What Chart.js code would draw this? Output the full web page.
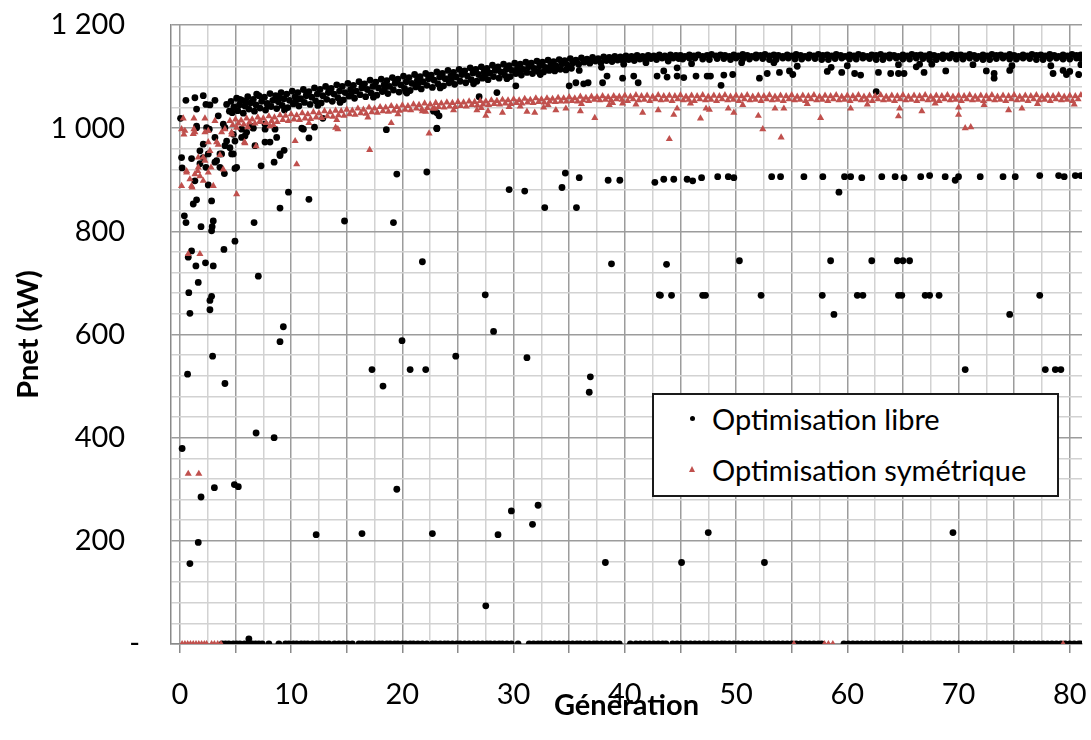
<!DOCTYPE html>
<html>
<head>
<meta charset="utf-8">
<script src="https://cdn.jsdelivr.net/npm/chart.js@4.4.1/dist/chart.umd.min.js"></script>
<style>
html,body{margin:0;padding:0;background:#fff;}
#wrap{position:relative;width:1091px;height:740px;}
#legend{position:absolute;left:652px;top:393px;width:403px;height:100px;border:2px solid #1a1a1a;background:#fff;font-family:Lato,sans-serif;font-size:29px;color:#000;}
.row{position:absolute;left:0;height:40px;line-height:40px;white-space:nowrap;}
.row .t{position:absolute;left:58px;top:0;}
.dot{position:absolute;left:36px;width:5px;height:5px;border-radius:50%;background:#000;}
.tri{position:absolute;left:35px;width:0;height:0;border-left:3.5px solid transparent;border-right:3.5px solid transparent;border-bottom:6px solid #C0504D;}
</style>
</head>
<body>
<div id="wrap">
<canvas id="c" width="1091" height="740"></canvas>
<div id="legend">
  <div class="row" style="top:4px;"><span class="dot" style="top:17px;"></span><span class="t">Optimisation libre</span></div>
  <div class="row" style="top:55px;"><span class="tri" style="top:16px;"></span><span class="t">Optimisation symétrique</span></div>
</div>
</div>
<script>
// ---------- DATA ----------
const seriesNames = ['Optimisation libre', 'Optimisation symétrique'];
const xTickLabels = ['0','10','20','30','40','50','60','70','80'];
const yTickLabels = ['-','200','400','600','800','1 000','1 200'];

// Optimisation libre : main band (x, Pnet)
const libreBand = [
[4.6,1052],[5.1,1058],[5.6,1054],[6.1,1061],[6.6,1056],[7.1,1063],[7.6,1060],[8.1,1067],[8.6,1063],[9.1,1069],[9.6,1066],[10.1,1072],[10.6,1069],[11.1,1075],[11.6,1071],[12.1,1078],[12.6,1075],[13.1,1081],[13.6,1077],[14.1,1084],[14.6,1081],[15.1,1087],[15.6,1083],[16.1,1090],[16.6,1086],[17.1,1093],[17.6,1089],[18.1,1095],[18.6,1092],[19.1,1098],[19.6,1095],[20.1,1101],[20.6,1098],[21.1,1104],[21.6,1100],[22.1,1106],[22.6,1103],[23.1,1109],[23.6,1106],[24.1,1112],[24.6,1108],[25.1,1114],[25.6,1111],[26.1,1117],[26.6,1114],[27.1,1119],[27.6,1116],[28.1,1122],[28.6,1119],[29.1,1124],[29.6,1121],[30.1,1126],[30.6,1124],[31.1,1128],[31.6,1126],[32.1,1130],[32.6,1128],[33.1,1132],[33.6,1129],[34.1,1133],[34.6,1131],[35.1,1135],[35.6,1132],[36.1,1136],[36.6,1134],[37.1,1137],[37.6,1135],[38.1,1138],[38.6,1137],[39.1,1139],[39.6,1138],[40.1,1140],[40.6,1139],[41.1,1141],[41.6,1139],[42.1,1141],[42.6,1140],[43.1,1142],[43.6,1140],[44.1,1142],[44.6,1141],
[4.85,1041],[5.35,1045],[5.85,1043],[6.35,1049],[6.85,1045],[7.35,1052],[7.85,1048],[8.35,1054],[8.85,1051],[9.35,1057],[9.85,1054],[10.35,1061],[10.85,1057],[11.35,1063],[11.85,1060],[12.35,1066],[12.85,1063],[13.35,1069],[13.85,1066],[14.35,1072],[14.85,1069],[15.35,1075],[15.85,1072],[16.35,1078],[16.85,1075],[17.35,1081],[17.85,1078],[18.35,1084],[18.85,1081],[19.35,1087],[19.85,1084],[20.35,1090],[20.85,1087],[21.35,1093],[21.85,1090],[22.35,1096],[22.85,1093],[23.35,1099],[23.85,1096],[24.35,1101],[24.85,1099],[25.35,1104],[25.85,1101],[26.35,1107],[26.85,1104],[27.35,1109],[27.85,1107],[28.35,1112],[28.85,1109],[29.35,1114],[29.85,1112],[30.35,1117],[30.85,1114],[31.35,1119],[31.85,1116],[32.35,1121],[32.85,1118],[33.35,1123],[33.85,1120],[34.35,1125],[34.85,1122],[35.35,1127],[35.85,1124],[36.35,1128],[36.85,1126],[37.35,1130],[37.85,1127],[38.35,1131],[38.85,1129],[39.35,1132],[39.85,1130],[40.35,1133],[40.85,1131],[41.35,1134],[41.85,1132],[42.35,1135],[42.85,1133],[43.35,1136],[43.85,1134],[44.35,1136],[44.85,1135],
[4.7,1030],[5.2,1034],[5.7,1029],[6.2,1037],[6.7,1033],[7.2,1039],[7.7,1035],[8.2,1042],[8.7,1038],[9.2,1044],[9.7,1040],[10.2,1047],[10.7,1043],[11.2,1050],[11.7,1046],[12.2,1053],[12.7,1049],[13.2,1056],[13.7,1052],[14.2,1059],[14.7,1055],[15.2,1062],[15.7,1058],[16.2,1065],[16.7,1061],[17.2,1068],[17.7,1064],[18.2,1071],[18.7,1067],[19.2,1074],[19.7,1070],[20.2,1077],[20.7,1073],[21.2,1080],[21.7,1076],[22.2,1083],[22.7,1079],[23.2,1086],[23.7,1082],[24.2,1088],[24.7,1085],[25.2,1091],[25.7,1088],[26.2,1094],[26.7,1091],[27.2,1097],[27.7,1094],[28.2,1100],[28.7,1097],[29.2,1103],[29.7,1100],[30.2,1106],[30.7,1103],[31.2,1108],[31.7,1106],[32.2,1110],[32.7,1109],[33.2,1112],[33.7,1111],[34.2,1114],[34.7,1113],[35.2,1116],
[5.9,1051],[6.9,1066],[7.9,1043],[8.9,1060],[9.4,1035],[10.4,1052],[11.4,1068],[12.4,1044],[13.4,1074],[14.4,1050],[15.4,1066],[16.4,1085],[17.4,1060],[18.4,1076],[19.4,1092],[20.4,1068],[21.4,1086],[22.4,1101],[23.4,1078],[24.4,1094],[25.4,1109],[26.4,1086],[27.4,1102],[28.4,1116],[29.4,1096],[30.4,1110],[31.4,1122],[32.4,1104],[33.4,1117],[34.4,1128],[35.9,1112],[36.9,1131],[37.9,1118],[38.9,1133],[39.9,1124],[40.9,1136],[41.9,1127],[42.9,1138],[43.9,1130]
];
const libreTail = [
[45.0,1141],[45.4,1139],[45.8,1142],[46.2,1140],[46.6,1142],[47.0,1139],[47.4,1141],[47.8,1143],[48.2,1140],[48.6,1142],[49.0,1141],[49.4,1139],[49.8,1142],[50.2,1140],[50.6,1143],[51.0,1141],[51.4,1139],[51.8,1142],[52.2,1141],[52.6,1143],[53.0,1140],[53.4,1142],[53.8,1141],[54.2,1139],[54.6,1142],[55.0,1140],[55.4,1143],[55.8,1141],[56.2,1139],[56.6,1142],[57.0,1140],[57.4,1143],[57.8,1141],[58.2,1142],[58.6,1140],[59.0,1143],[59.4,1141],[59.8,1139],[60.2,1142],[60.6,1140],[61.0,1143],[61.4,1141],[61.8,1139],[62.2,1142],[62.6,1141],[63.0,1143],[63.4,1140],[63.8,1142],[64.2,1141],[64.6,1139],[65.0,1142],[65.4,1140],[65.8,1143],[66.2,1141],[66.6,1142],[67.0,1140],[67.4,1143],[67.8,1141],[68.2,1139],[68.6,1142],[69.0,1140],[69.4,1143],[69.8,1141],[70.2,1142],[70.6,1140],[71.0,1143],[71.4,1141],[71.8,1139],[72.2,1142],[72.6,1140],[73.0,1143],[73.4,1141],[73.8,1142],[74.2,1140],[74.6,1143],[75.0,1141],[75.4,1139],[75.8,1142],[76.2,1140],[76.6,1143],[77.0,1141],[77.4,1142],[77.8,1140],[78.2,1143],[78.6,1141],[79.0,1139],[79.4,1142],[79.8,1140],[80.2,1143],[80.6,1141],[81.0,1142],
[45.2,1134],[45.8,1136],[46.3,1136],[47.0,1134],[47.6,1133],[48.3,1135],[48.9,1135],[49.5,1133],[50.0,1136],[50.6,1134],[51.2,1134],[51.8,1136],[52.4,1135],[53.0,1133],[53.6,1133],[54.2,1136],[54.7,1136],[55.3,1134],[55.9,1134],[56.5,1136],[57.1,1135],[57.7,1133],[58.3,1133],[58.9,1135],[59.5,1136],[60.2,1134],[60.8,1134],[61.4,1136],[62.0,1135],[62.6,1133],[63.2,1133],[63.8,1136],[64.4,1136],[65.0,1134],[65.6,1134],[66.2,1136],[66.8,1135],[67.4,1133],[68.0,1133],[68.6,1135],[69.2,1136],[69.8,1134],[70.4,1134],[71.0,1136],[71.6,1135],[72.2,1133],[72.8,1133],[73.4,1135],[74.0,1136],[74.6,1134],[75.2,1134],[75.8,1136],[76.4,1135],[77.0,1133],[77.6,1133],[78.2,1135],[78.8,1136],[79.4,1134],[80.0,1134],[80.6,1136],[81.0,1135]
];
const libreOutliers = [
[0.15,943],[0.2,923],[1.05,941],[0.4,830],[0.55,817],[1.9,809],[2.85,801],[3.0,820],[2.9,809],[1.2,853],[1.5,861],[2.85,859],[2.55,890],[4.95,922],[4.0,912],[6.67,817],[7.3,927],[8.47,934],[9.0,845],[9.76,876],[11.6,862],[11.6,981],[9.0,947],[9.37,957],[10.96,1000],[12.1,1002],[14.8,820],[18.56,997],[19.5,911],[19.2,817],[4.95,781],[3.96,765],[1.05,762],[0.75,750],[1.44,733],[2.3,739],[3.0,733],[1.65,701],[0.8,681],[2.85,674],[2.7,666],[2.7,648],[0.9,641],[7.05,713],[9.3,615],[9.0,586],[19.97,588],[2.94,558],[0.69,523],[4.05,505],[17.27,532],[18.26,500],
[6.85,409],[8.47,400],[0.2,379],[3.1,303],[1.9,285],[4.9,309],[5.25,305],[19.5,300],[12.25,212],[16.37,214],[1.65,197],[0.9,156],[6.2,10],
[22.2,915],[29.6,881],[31,878],[32.8,846],[34.35,885],[34.65,913],[35.9,904],[35.65,846],[38.5,899],[39.55,899],[42.7,895],[21.8,741],[38.8,737],[27.45,677],[43.1,677],[28.2,606],[24.8,558],[31.2,555],[20.7,532],[22.1,532],[36.9,518],[36.8,488],[22.7,214],[28.6,212],[29.8,258],[31.7,232],[32.2,269],[38.25,158],[27.5,74],
[43.5,901],[44.4,901],[45.6,901],[46.1,898],[46.9,904],[48.35,906],[49.3,906],[49.8,904],[53.2,906],[54,906],[56.1,906],[57.8,906],[59.75,906],[60.3,906],[61.3,904],[63.1,906],[64.3,906],[65.1,904],[66.6,906],[67.4,908],[68.8,906],[69.7,899],[70,906],[71.95,906],[74,906],[75.1,906],[77.3,908],[79,908],[79.5,906],[80.5,908],[81,908],[59.25,876],
[43.75,736],[50.3,743],[58.5,743],[62.2,743],[64.5,743],[65,743],[65.6,743],
[43.2,676],[44.2,676],[47.0,676],[47.25,676],[52.25,676],[57.75,676],[60.9,676],[61.4,676],[64.6,676],[64.9,676],[67.0,676],[67.4,676],[68.25,676],[77.3,676],
[58.8,639],[74.6,639],[70.6,532],[77.8,532],[78.7,532],[79.2,532],
[45.1,158],[47.5,216],[52.55,158],[69.5,216],
[0.54,1054],[1.35,1059],[2.1,1063],[2.34,1046],[2.7,1045],[3.15,1054],[1.5,1037],[0.06,1019],[3.45,1024],[4.2,1046],[4.45,1033],[5.4,1056],[1.5,1001],[2.64,998],[1.8,956],[2.1,943],[2.34,924],[3.15,934],[3.6,950],[4.05,966],[4.5,962],[4.8,950],[4.95,975],[5.1,924],[6.0,992],[5.55,982],[9.0,950],[11.1,998],[12.85,1019],[23.1,1030],[23.1,1000],[6.55,1001],[7.66,998],[8.7,982],[8.1,973],
[1.8,931],[2.55,950],[3.3,937],[3.6,924],[3.75,950],[4.2,975],[4.65,950],[4.8,988],[3.15,982],[2.1,969],[4.05,1001],[5.55,998],[5.85,985],[6.45,1004],[7.65,973],[6.75,966],[1.35,898],[1.5,1004],[2.4,1001],[3.9,1008],[6.6,1000],[7.65,1008],[8.55,998],
[20.3,1071],[22.8,1033],[23.3,1024],[23.1,999],[26.9,1061],[28.5,1069],[30.2,1082],[35,1082],[35.6,1088],[36.3,1086],[36.7,1088],[38,1088],[38.4,1101],[39.8,1097],[40.8,1101],[41.2,1088],[42.9,1101],[43.5,1111],[43.8,1099],[44.7,1117],[44.7,1101],[45.3,1098],[46.4,1101],[47.4,1101],[47.7,1101],[48.65,1083],[48.9,1103],[49.7,1104],[52.1,1097],[52.8,1106],[53.4,1127],[53.9,1108],[54.8,1111],[55.1,1104],[46,1125],[50.5,1127],[55.5,1120],
[58.2,1110],[58.55,1118],[59.5,1108],[60,1121],[60.66,1106],[61.2,1103],[62.8,1108],[63.9,1106],[64.6,1106],[64.6,1123],[65.1,1106],[66.2,1119],[66.5,1124],[66.9,1108],[67.6,1124],[68.85,1111],[71.3,1123],[72.5,1111],[73.2,1106],[73.2,1097],[74.6,1112],[74.8,1121],[78.3,1121],[78.5,1106],[79.4,1112],[79.7,1104],[80,1110],[80.8,1104],[81,1123],[62.6,1071]
];
const libreZeroX = [3.8,4.1,4.4,4.8,5.1,5.4,5.8,6.1,6.5,6.8,7.1,7.4,8.0,8.9,9.5,9.8,10.2,10.5,10.9,11.2,11.5,11.9,12.3,12.6,13.0,13.4,13.9,14.3,14.7,15.1,15.5,16.1,16.4,16.8,17.1,17.5,17.9,18.2,18.6,18.9,19.3,19.6,20.0,20.3,20.7,21.0,21.4,21.8,22.2,22.7,23.0,23.4,23.8,24.1,24.5,24.9,25.2,25.6,26.0,26.4,26.8,27.2,27.6,27.9,28.3,28.7,29.0,29.4,29.8,30.4,31.4,31.8,32.2,32.5,32.9,33.3,33.7,34.1,34.5,34.9,35.3,35.7,36.0,36.4,36.8,37.2,37.5,37.9,38.3,38.7,39.1,39.5,40.5,41.0,41.4,41.8,42.2,42.6,43.0,43.4,43.7,44.3,44.7,45.1,45.5,45.9,46.3,46.7,47.1,47.5,47.9,48.3,48.7,49.0,49.4,49.8,50.2,50.6,51.0,51.4,51.8,52.2,52.6,53.0,53.4,53.8,54.2,54.6,55.0,55.4,55.8,56.2,56.6,57.0,57.4,57.7,59.7,60.1,60.5,60.9,61.3,61.7,62.1,62.5,62.9,63.3,63.7,64.1,64.5,64.9,65.3,65.7,66.1,66.5,66.9,67.3,67.7,68.1,68.4,68.8,69.2,69.6,70.0,70.4,70.8,71.2,71.6,72.0,72.4,72.8,73.2,73.6,74.0,74.4,74.8,75.2,75.6,76.0,76.4,76.8,77.2,77.6,78.0,78.4,78.8,79.2,79.6,80.0,80.4,80.8,81.0];

// Optimisation symétrique
const symBand = [
[4.5,1014],[5,1017],[5.5,1015],[6,1019],[6.5,1017],[7,1021],[7.5,1019],[8,1023],[8.5,1021],[9,1025],[9.5,1024],[10,1027],[10.5,1025],[11,1029],[11.5,1027],[12,1031],[12.5,1029],[13,1033],[13.5,1031],[14,1034],[14.5,1033],[15,1036],[15.5,1034],[16,1038],[16.5,1036],[17,1040],[17.5,1038],[18,1041],[18.5,1040],[19,1043],[19.5,1041],[20,1044],[20.5,1043],[21,1046],[21.5,1045],[22,1048],[22.5,1046],[23,1049],[23.5,1048],[24,1050],[24.5,1049],[25,1051],[25.5,1050],[26,1052],[26.5,1051],[27,1053],[27.5,1052],[28,1054],[28.5,1053],[29,1055],[29.5,1054],[30,1056],[30.5,1054],[31,1057],[31.5,1055],[32,1058],[32.5,1056],[33,1058],[33.5,1057],[34,1059],[34.5,1058],[35,1060],[35.5,1058],[36,1061],[36.5,1059],[37,1061],[37.5,1060],[38,1062],[38.5,1060],[39,1062],[39.5,1061],
[40,1063],[40.5,1061],[41,1064],[41.5,1062],[42,1063],[42.5,1061],[43,1064],[43.5,1062],[44,1063],[44.5,1062],[45,1064],[45.5,1061],[46,1063],[46.5,1062],[47,1064],[47.5,1061],[48,1063],[48.5,1062],[49,1064],[49.5,1061],[50,1063],[50.5,1062],[51,1064],[51.5,1061],[52,1063],[52.5,1062],[53,1064],[53.5,1061],[54,1063],[54.5,1062],[55,1064],[55.5,1061],[56,1063],[56.5,1062],[57,1064],[57.5,1061],[58,1063],[58.5,1062],[59,1064],[59.5,1061],[60,1063],[60.5,1062],[61,1064],[61.5,1061],[62,1063],[62.5,1062],[63,1064],[63.5,1061],[64,1063],[64.5,1062],[65,1064],[65.5,1061],[66,1063],[66.5,1062],[67,1064],[67.5,1061],[68,1063],[68.5,1062],[69,1064],[69.5,1061],[70,1063],[70.5,1062],[71,1064],[71.5,1061],[72,1063],[72.5,1062],[73,1064],[73.5,1061],[74,1063],[74.5,1062],[75,1064],[75.5,1061],[76,1063],[76.5,1062],[77,1064],[77.5,1061],[78,1063],[78.5,1062],[79,1064],[79.5,1061],[80,1063],[80.5,1062],[81,1064],
[4.75,1006],[5.25,1009],[5.75,1007],[6.25,1011],[6.75,1009],[7.25,1012],[7.75,1010],[8.25,1014],[8.75,1012],[9.25,1016],[9.75,1014],[10.25,1017],[10.75,1016],[11.25,1019],[11.75,1018],[12.25,1021],[12.75,1020],[13.25,1023],[13.75,1022],[14.25,1025],[14.75,1024],[15.25,1027],[15.75,1026],[16.25,1029],[16.75,1028],[17.25,1031],[17.75,1030],[18.25,1033],[18.75,1032],[19.25,1034],[19.75,1034],[20.25,1036],[20.75,1035],[21.25,1038],[21.75,1037],[22.25,1039],[22.75,1038],[23.25,1041],[23.75,1040],[24.25,1042],[24.75,1041],[25.25,1043],[25.75,1042],[26.25,1045],[26.75,1044],[27.25,1046],[27.75,1045],[28.25,1047],[28.75,1046],[29.25,1048],[29.75,1047],[30.25,1049],[30.75,1048],[31.25,1050],[31.75,1049],[32.25,1051],[32.75,1050],[33.25,1052],[33.75,1051],[34.25,1052],[34.75,1052],[35.25,1053],[35.75,1052],[36.25,1054],[36.75,1053],[37.25,1055],[37.75,1054],[38.25,1055],[38.75,1054],[39.25,1056],
[39.75,1055],[40.25,1053],[40.75,1056],[41.25,1054],[41.75,1055],[42.25,1053],[42.75,1056],[43.25,1054],[43.75,1055],[44.25,1053],[44.75,1056],[45.25,1054],[45.75,1055],[46.25,1053],[46.75,1056],[47.25,1054],[47.75,1055],[48.25,1053],[48.75,1056],[49.25,1054],[49.75,1055],[50.25,1053],[50.75,1056],[51.25,1054],[51.75,1055],[52.25,1053],[52.75,1056],[53.25,1054],[53.75,1055],[54.25,1053],[54.75,1056],[55.25,1054],[55.75,1055],[56.25,1053],[56.75,1056],[57.25,1054],[57.75,1055],[58.25,1053],[58.75,1056],[59.25,1054],[59.75,1055],[60.25,1053],[60.75,1056],[61.25,1054],[61.75,1055],[62.25,1053],[62.75,1056],[63.25,1054],[63.75,1055],[64.25,1053],[64.75,1056],[65.25,1054],[65.75,1055],[66.25,1053],[66.75,1056],[67.25,1054],[67.75,1055],[68.25,1053],[68.75,1056],[69.25,1054],[69.75,1055],[70.25,1053],[70.75,1056],[71.25,1054],[71.75,1055],[72.25,1053],[72.75,1056],[73.25,1054],[73.75,1055],[74.25,1053],[74.75,1056],[75.25,1054],[75.75,1055],[76.25,1053],[76.75,1056],[77.25,1054],[77.75,1055],[78.25,1053],[78.75,1056],[79.25,1054],[79.75,1055],[80.25,1053],[80.75,1056],
[41,1046],[45.9,1048],[50.6,1045],[56.4,1047],[61.8,1046],[67.9,1048],[72.3,1045],[77.1,1047],[80.4,1046],
[6.1,1002],[8.4,1006],[11.6,1010],[14.1,1016],[16.9,1021],[19.6,1027],[22.1,1032],[24.6,1035],[27.1,1039],[30.6,1042],[33.1,1045],[36.1,1047],[38.9,1049]
];
const symOutliers = [
[0.3,1019],[1.26,1019],[2.25,1019],[0.15,998],[0.36,988],[1.26,998],[2.25,992],[3.15,1014],[4.05,998],[4.65,992],[5.1,1001],[2.55,973],[3.45,968],[5.85,971],[6.85,965],[2.7,956],[2.1,943],[1.65,924],[3.6,948],[1.35,911],[0.6,914],[0.15,888],[1.05,888],[2.1,898],[3.0,888],[3.9,920],[5.1,872],[10.36,975],[10.5,930],[14,1001],[14.2,998],[17.06,958],[19.0,1010],[22.4,990],[0.75,756],[1.8,756],[0.75,330],[1.7,330],
[1.2,989],[1.65,943],[0.6,917],[1.6,917],[2.8,924],[1.1,885],[5.8,973],[0.45,995],[1.35,992],[2.55,995],[3.75,992],[4.65,988],[3.3,973],[2.25,937],[2.55,914],[0.9,901],[1.8,907],[7.2,1014],[8.1,1004],
[21.8,1033],[22.9,1038],[26.7,1035],[27.5,1024],[27.7,1033],[29,1030],[29.6,1041],[31.2,1032],[31.9,1030],[32.7,1040],[33.8,1035],[34.7,1038],[36,1033],[37.3,1020],[38.6,1045],[39.8,1048],[41.6,1030],[43,1035],[44,979],[44.4,1026],[44.7,1038],[46.8,1019],[47.3,1038],[47.6,1036],[49.3,1038],[49.8,1030],[52,1024],[52.4,998],[53.5,1038],[54.05,982],[54.3,1038],
[57.6,1020],[60.3,1038],[64.6,1023],[64.7,1038],[66.7,1033],[70,1026],[70,1040],[70.6,1000],[71.1,1002],[74.5,1035],[75.7,1038]
];
const symZeroX = [0.2,0.45,0.7,0.95,1.2,1.45,1.7,1.95,2.2,2.4,2.85,3.1,3.4,3.7,55.2,57.95,58.3,58.7,79.4];

// ---------- CHART ----------
const toPts = arr => arr.map(p => ({x: p[0], y: p[1]}));
const libreData = toPts([].concat(libreBand, libreTail, libreOutliers, libreZeroX.map(x => [x, 0])));
const symData = toPts([].concat(symBand, symOutliers, symZeroX.map(x => [x, 0])));

const xGrid = []; for (let v = 0; v <= 80; v += 2.5) xGrid.push(v);
const yGrid = []; for (let v = 0; v <= 1200; v += 40) yGrid.push(v);
const MAJ = '#9c9c9c', MIN = '#d2d2d2', AXIS = '#8a8a8a';

Chart.defaults.font.family = 'Lato, sans-serif';
Chart.defaults.color = '#000';

const zeroPad = s => { s.paddingTop = 0; s.paddingBottom = 0; s.paddingLeft = 0; s.paddingRight = 0; };

new Chart(document.getElementById('c'), {
  type: 'scatter',
  data: {
    datasets: [
      {label: seriesNames[0], data: libreData, order: 1, pointStyle: 'circle', pointRadius: 3.4,
       backgroundColor: '#000', borderWidth: 0, pointBorderWidth: 0},
      {label: seriesNames[1], data: symData, order: 0, pointStyle: 'triangle', pointRadius: 4.1,
       backgroundColor: '#C0504D', borderWidth: 0, pointBorderWidth: 0}
    ]
  },
  options: {
    responsive: false,
    animation: false,
    events: [],
    devicePixelRatio: 1,
    layout: {padding: {top: 25, right: 9, bottom: 0, left: 0}},
    plugins: {legend: {display: false}, tooltip: {enabled: false}},
    scales: {
      x: {
        type: 'linear', min: -0.8, max: 81.1,
        afterBuildTicks: s => { s.ticks = xGrid.map(v => ({value: v})); },
        afterFit: s => { s.height = 96; zeroPad(s); },
        ticks: {autoSkip: false, maxRotation: 0, padding: 24, font: {size: 29},
          callback: v => (v % 10 === 0 ? xTickLabels[v / 10] : '')},
        grid: {lineWidth: 1.5, tickLength: 9, tickWidth: 1.5, drawTicks: true,
          color: c => (c.tick && c.tick.value % 5 === 0 ? MAJ : MIN),
          tickColor: c => (c.tick && c.tick.value % 5 === 0 ? AXIS : 'rgba(0,0,0,0)')},
        border: {display: true, color: AXIS, width: 1.5},
        title: {display: true, text: 'Génération', font: {size: 29, weight: 'bold'}, padding: {top: 0, bottom: 17}}
      },
      y: {
        type: 'linear', min: 0, max: 1200,
        afterBuildTicks: s => { s.ticks = yGrid.map(v => ({value: v})); },
        afterFit: s => { s.width = 171; zeroPad(s); },
        ticks: {autoSkip: false, padding: 31, font: {size: 29},
          callback: v => (v % 200 === 0 ? yTickLabels[v / 200] + (v === 0 ? '' : '  ') : '')},
        grid: {lineWidth: 1.5, drawTicks: false,
          color: c => (c.tick && c.tick.value % 200 === 0 ? MAJ : MIN)},
        border: {display: true, color: AXIS, width: 1.5},
        title: {display: true, text: 'Pnet (kW)', font: {size: 29, weight: 'bold'}, padding: {top: 11, bottom: 0}}
      }
    }
  }
});
</script>
</body>
</html>
